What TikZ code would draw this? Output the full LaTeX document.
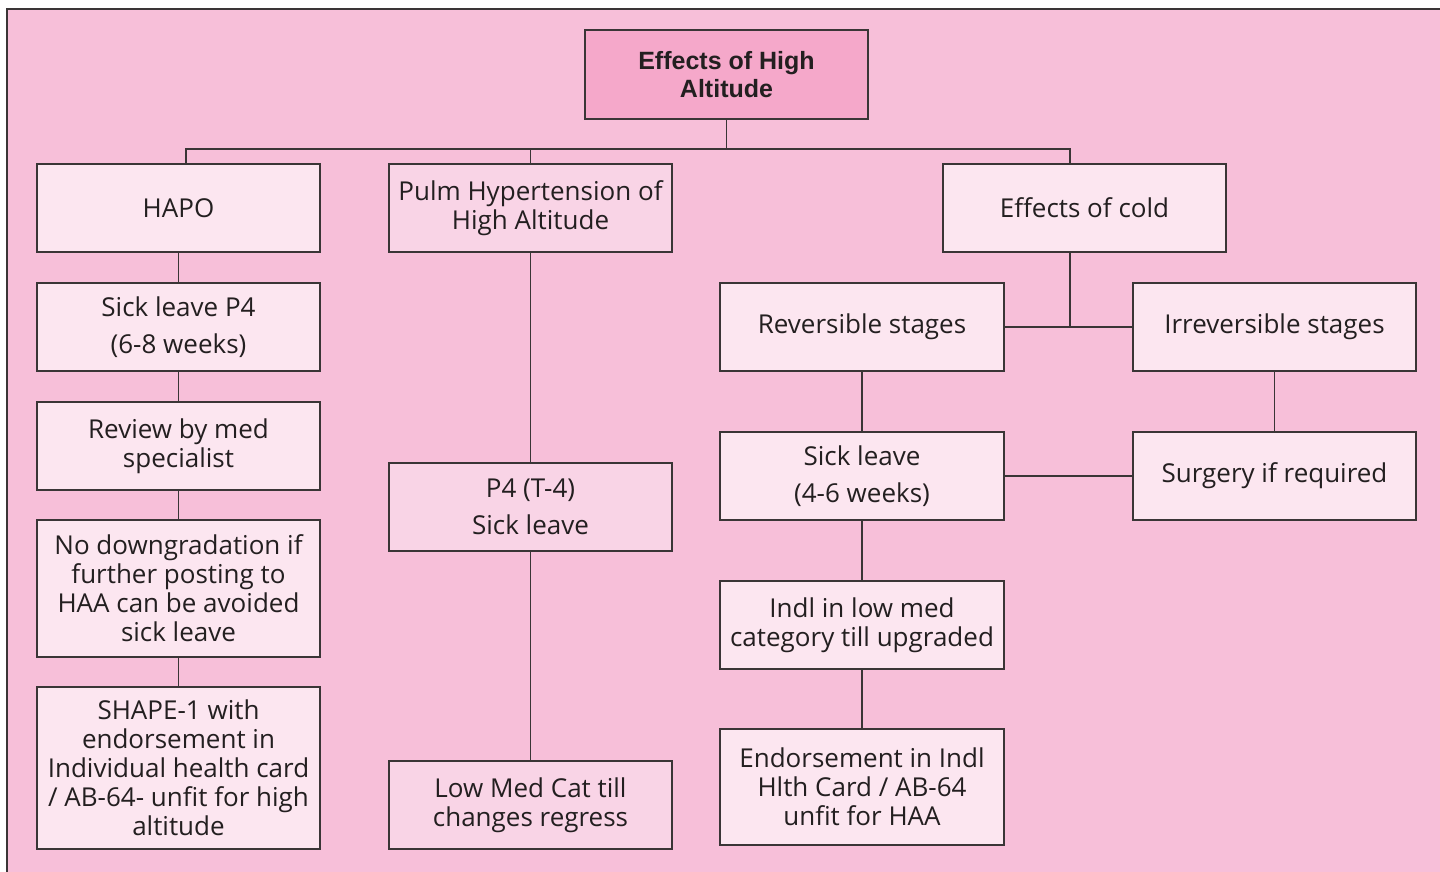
\documentclass[tikz,border=0pt]{standalone}
\usepackage{fontspec}
\setmainfont{Open Sans}
\newfontfamily\headfont{Liberation Sans}
\definecolor{pagepink}{HTML}{F7BFD9}
\definecolor{boxfill}{HTML}{FCE6F0}
\definecolor{midfill}{HTML}{F9D4E6}
\definecolor{headfill}{HTML}{F5A8CA}
\definecolor{inkc}{HTML}{231F20}
\definecolor{linec}{HTML}{3A3536}
\begin{document}
\begin{tikzpicture}[x=1pt,y=-1pt,
  box/.style={draw=linec, fill=boxfill, line width=1.3pt, minimum width=283pt,
    minimum height=88pt, inner sep=0pt, align=center, text=inkc,
    font=\fontsize{26}{29}\selectfont},
  midbox/.style={box, fill=midfill},
  headbox/.style={box, fill=headfill, minimum height=89pt,
    font=\headfont\bfseries\fontsize{25}{28}\selectfont},
  link/.style={draw=linec, line width=1.2pt}]
\useasboundingbox (0,0) rectangle (1440,872);
\fill[white] (0,0) rectangle (1440,872);
\begin{scope}
\clip (0,0) rectangle (1440,872);
\draw[fill=pagepink, draw=linec, line width=2pt] (7,9) rectangle (1450,885);
\end{scope}

% top level
\node[headbox] (title) at (726.5,74.5) {Effects of High\\Altitude};
\node[box] (hapo) at (178.5,208) {HAPO};
\node[midbox] (pulm) at (530.5,208) {Pulm Hypertension of\\High Altitude};
\node[box] (cold) at (1084.5,208) {Effects of cold};

% HAPO column
\node[box] (sick1) at (178.5,327) {Sick leave P4\\[8pt](6-8 weeks)};
\node[box] (review) at (178.5,446) {Review by med\\specialist};
\node[box, minimum height=137pt] (nodown) at (178.5,588.5)
  {No downgradation if\\further posting to\\HAA can be avoided\\sick leave};
\node[box, minimum height=162pt] (shape) at (178.5,768)
  {SHAPE-1 with\\endorsement in\\Individual health card\\/ AB-64- unfit for high\\altitude};

% pulmonary hypertension column
\node[midbox] (p4) at (530.5,507) {P4 (T-4)\\[8pt]Sick leave};
\node[midbox] (lowmed) at (530.5,805) {Low Med Cat till\\changes regress};

% effects of cold
\node[box, minimum width=284pt] (rev) at (862,327) {Reversible stages};
\node[box] (irrev) at (1274.5,327) {Irreversible stages};
\node[box, minimum width=284pt] (sick2) at (862,476) {Sick leave\\[8pt](4-6 weeks)};
\node[box] (surg) at (1274.5,476) {Surgery if required};
\node[box, minimum width=284pt] (indl) at (862,625) {Indl in low med\\category till upgraded};
\node[box, minimum width=284pt, minimum height=116pt] (endo) at (862,787)
  {Endorsement in Indl\\Hlth Card / AB-64\\unfit for HAA};

% connectors
\coordinate (busL) at (186,149);
\coordinate (busR) at (1070,149);
\coordinate (coldj) at (1070,326);
\draw[link] (title.south) -- (title.south |- busL);
\draw[link] (busL |- hapo.north) -- (busL) -- (busR) -- (busR |- cold.north);
\draw[link] (pulm.north) -- (pulm.north |- busL);
\draw[link] (hapo.south) -- (sick1.north);
\draw[link] (sick1.south) -- (review.north);
\draw[link] (review.south) -- (nodown.north);
\draw[link] (nodown.south) -- (shape.north);
\draw[link] (pulm.south) -- (p4.north);
\draw[link] (p4.south) -- (lowmed.north);
\draw[link] (coldj |- cold.south) -- (coldj);
\draw[link] (rev.east) -- (irrev.west);
\draw[link] (rev.south) -- (sick2.north);
\draw[link] (irrev.south) -- (surg.north);
\draw[link] (sick2.east) -- (surg.west);
\draw[link] (sick2.south) -- (indl.north);
\draw[link] (indl.south) -- (endo.north);
\end{tikzpicture}
\end{document}
